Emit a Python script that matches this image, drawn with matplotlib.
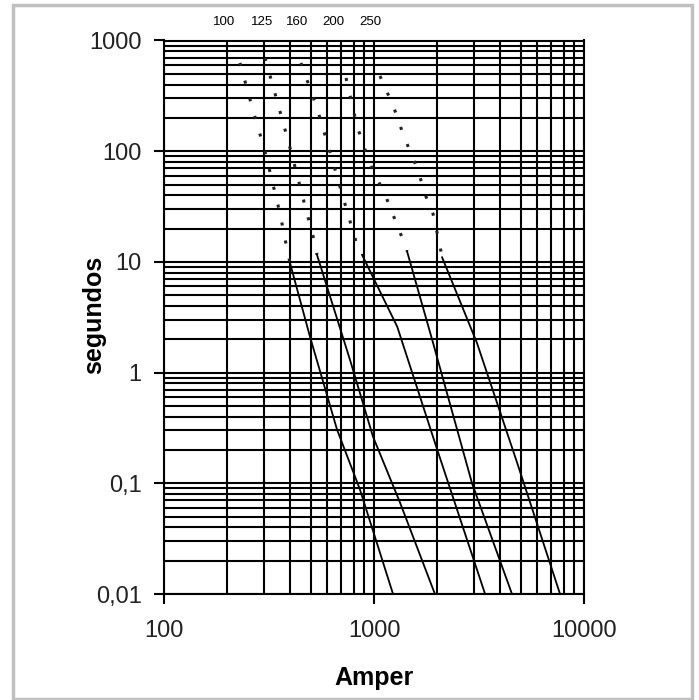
import matplotlib.pyplot as plt
from matplotlib.patches import Rectangle
from matplotlib.ticker import FixedLocator, LogLocator, NullFormatter

plt.rcParams['font.family'] = ['Liberation Sans', 'DejaVu Sans']

fuse_labels = ['100', '125', '160', '200', '250']

# curvas tiempo-corriente: tramo punteado (> 10 s) y tramo continuo
amp_100_dot = [230, 265, 303, 357, 381, 398]
sec_100_dot = [627, 236, 99, 27.2, 14.6, 9.8]
amp_100 = [398, 496, 667, 857, 1232]
sec_100 = [9.8, 2.1, 0.305, 0.088, 0.01]

amp_125_dot = [303, 353, 403, 480, 524, 535]
sec_125_dot = [695, 246, 98.6, 27.2, 14.6, 11.6]
amp_125 = [535, 769, 989, 1330, 1950]
sec_125 = [11.6, 1.3, 0.264, 0.067, 0.01]

amp_160_dot = [449, 535, 617, 711, 821, 877]
sec_160_dot = [627, 246, 98.6, 38.7, 15.2, 11.6]
amp_160 = [877, 1290, 1950, 2485, 3380]
sec_160 = [11.6, 2.6, 0.233, 0.058, 0.01]

amp_200_dot = [736, 830, 957, 1140, 1420, 1436]
sec_200_dot = [459, 169, 76.8, 38.7, 13.5, 12.5]
amp_200 = [1436, 1910, 2930, 4540]
sec_200 = [12.5, 1.86, 0.10, 0.01]

amp_250_dot = [1068, 1245, 1390, 1604, 1770, 1910, 2050, 2110]
sec_250_dot = [478, 246, 135, 70.6, 38.7, 27.2, 14.6, 11.0]
amp_250 = [2110, 3090, 4800, 7690]
sec_250 = [11.0, 1.86, 0.154, 0.01]

y_ticks = [0.01, 0.1, 1, 10, 100, 1000]
y_tick_labels = ['0,01', '0,1', '1', '10', '100', '1000']
x_ticks = [100, 1000, 10000]
x_tick_labels = ['100', '1000', '10000']

fig = plt.figure(figsize=(6.99, 7.0), dpi=100)
ax = fig.add_axes([164 / 699, 1 - 594 / 700, 420 / 699, 553.5 / 700])

curves = [
    (amp_100_dot, sec_100_dot, amp_100, sec_100),
    (amp_125_dot, sec_125_dot, amp_125, sec_125),
    (amp_160_dot, sec_160_dot, amp_160, sec_160),
    (amp_200_dot, sec_200_dot, amp_200, sec_200),
    (amp_250_dot, sec_250_dot, amp_250, sec_250),
]
for a_dot, s_dot, a, s in curves:
    ax.plot(a_dot, s_dot, color='#222222', lw=2.2, linestyle=(0, (1, 5)))
    ax.plot(a, s, color='black', lw=1.3)

ax.set_xscale('log')
ax.set_yscale('log')
ax.set_xlim(100, 10000)
ax.set_ylim(0.01, 1000)

ax.xaxis.set_major_locator(FixedLocator(x_ticks))
ax.set_xticklabels(x_tick_labels)
ax.yaxis.set_major_locator(FixedLocator(y_ticks))
ax.set_yticklabels(y_tick_labels)
ax.xaxis.set_minor_locator(LogLocator(base=10, subs=range(2, 10)))
ax.yaxis.set_minor_locator(LogLocator(base=10, subs=range(2, 10)))
ax.xaxis.set_minor_formatter(NullFormatter())
ax.yaxis.set_minor_formatter(NullFormatter())

ax.grid(which='both', color='black', lw=1.5)
ax.set_axisbelow(True)
for sp in ax.spines.values():
    sp.set_color('black')
    sp.set_linewidth(1.5)

ax.tick_params(which='major', length=7, width=1.5, labelsize=17,
               labelcolor='#222222')
ax.tick_params(axis='y', which='major', pad=9)
ax.tick_params(axis='x', which='major', pad=12)
ax.tick_params(which='minor', length=0)

ax.set_xlabel('Amper', fontsize=18, fontweight='bold')
ax.set_ylabel('segundos', fontsize=18, fontweight='bold')
ax.xaxis.set_label_coords(0.5, -0.13)
ax.yaxis.set_label_coords(-0.138, 0.504)

# etiquetas de los fusibles arriba del grafico
label_x_px = [224, 262, 297, 333, 370]
for lab, px in zip(fuse_labels, label_x_px):
    fig.text(px / 699, 1 - 22 / 700, lab, fontsize=9.5, ha='center', va='center')

fig.patches.append(Rectangle((13 / 699, 1 / 700), 679 / 699, 694 / 700,
                             transform=fig.transFigure, fill=False,
                             edgecolor='#c0c0c0', lw=2.5))

fig.savefig('out.png', dpi=100)
